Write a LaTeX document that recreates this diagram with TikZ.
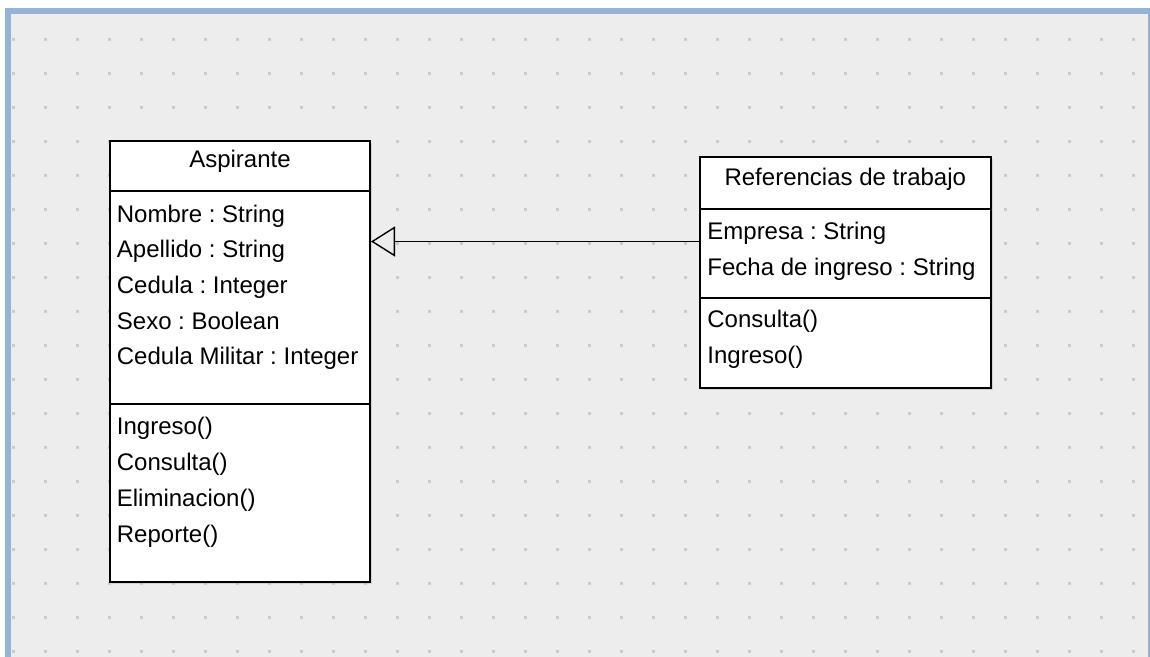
\documentclass[tikz,border=0pt]{standalone}
\usepackage{fontspec}
\setmainfont{Liberation Sans}
\usetikzlibrary{arrows.meta,fit,shadows}
\frenchspacing

\definecolor{frameblue}{RGB}{149,179,215}
\definecolor{canvasgray}{RGB}{237,237,237}
\definecolor{dotgray}{RGB}{202,202,202}

\tikzset{
  umlclass/.style={draw, line width=1pt, fill=white, inner sep=0pt,
    drop shadow={shadow xshift=1pt, shadow yshift=-1pt, opacity=0.25}},
  umlsep/.style={line width=1pt},
  umltext/.style={anchor=base west, inner sep=0pt, font=\fontsize{12}{14}\selectfont},
  umltitle/.style={anchor=base, inner sep=0pt, font=\fontsize{12}{14}\selectfont},
  generalization/.style={line width=0.7pt, -{Triangle[open, length=12pt, width=15pt]}},
}

\begin{document}
\begin{tikzpicture}[x=0.5pt, y=-0.5pt]
  \useasboundingbox (0,0) rectangle (1150,657);
  % editor canvas with its frame
  \fill[white] (0,0) rectangle (1150,657);
  \fill[frameblue] (5,8) rectangle (1150,657);
  \fill[canvasgray] (11,14) rectangle (1148,657);
  \foreach \i in {0,...,35} {
    \foreach \j in {0,...,18} {
      \fill[dotgray] ({12+32*\i},{37.8+34*\j}) rectangle ++(3,3);
    }
  }

  % class Aspirante
  \node[umlclass, fit={(110,141) (370,582)}] (asp) {};
  \draw[umlsep] (asp.west |- 0,191) -- (asp.east |- 0,191);
  \draw[umlsep] (asp.west |- 0,404) -- (asp.east |- 0,404);
  \node[umltitle] (asp-name) at (240,167.5) {Aspirante};
  \foreach \txt [count=\k] in {Nombre : String, Apellido : String,
      Cedula : Integer, Sexo : Boolean, Cedula Militar : Integer}
    \node[umltext] (asp-attr\k) at (116.5,{222.5+35.5*(\k-1)}) {\txt};
  \foreach \txt [count=\k] in {Ingreso(), Consulta(), Eliminacion(), Reporte()}
    \node[umltext] (asp-op\k) at (116.5,{434.3+35.9*(\k-1)}) {\txt};

  % class Referencias de trabajo
  \node[umlclass, fit={(700,157.3) (990.7,388.3)}] (ref) {};
  \draw[umlsep] (ref.west |- 0,209) -- (ref.east |- 0,209);
  \draw[umlsep] (ref.west |- 0,298.3) -- (ref.east |- 0,298.3);
  \node[umltitle] (ref-name) at (845.3,186) {Referencias de trabajo};
  \foreach \txt [count=\k] in {Empresa : String, Fecha de ingreso : String}
    \node[umltext] (ref-attr\k) at (707,{240+35.5*(\k-1)}) {\txt};
  \foreach \txt [count=\k] in {Consulta(), Ingreso()}
    \node[umltext] (ref-op\k) at (707,{327.7+35.6*(\k-1)}) {\txt};

  % generalization
  \coordinate (link) at (0,241.5);
  \draw[generalization] (ref.west |- link) -- (asp.east |- link);
\end{tikzpicture}
\end{document}
